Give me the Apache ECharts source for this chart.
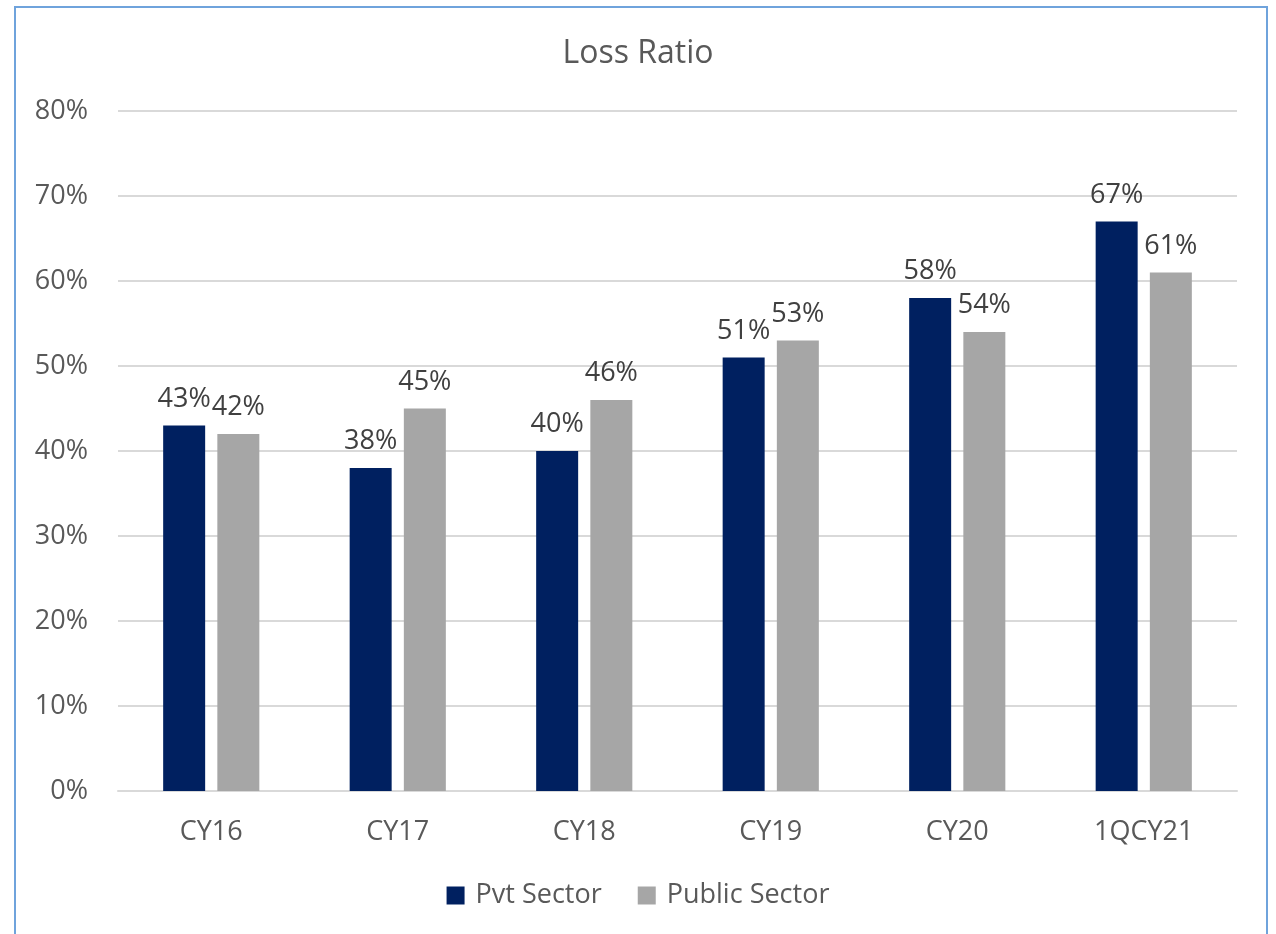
<!DOCTYPE html>
<html>
<head>
<meta charset="utf-8">
<script src="https://cdn.jsdelivr.net/npm/echarts@6/dist/echarts.min.js"></script>
<style>
  html, body { margin: 0; padding: 0; background: #fff; }
  #chart { position: absolute; left: 0; top: 0; width: 1276px; height: 934px; }
  #frame { position: absolute; left: 14px; top: 6px; width: 1250px; height: 940px;
           border: 2px solid #6fa3dc; pointer-events: none; }
</style>
</head>
<body>
<div id="chart"></div>
<div id="frame"></div>
<script>
const categories = ['CY16', 'CY17', 'CY18', 'CY19', 'CY20', '1QCY21'];
const pvtSector = [43, 38, 40, 51, 58, 67];
const publicSector = [42, 45, 46, 53, 54, 61];

const fontFamily = '"Open Sans", "Noto Sans", sans-serif';
const chart = echarts.init(document.getElementById('chart'));

const labelStyle = {
    show: true,
    position: 'top',
    distance: 13,
    color: '#404040',
    fontSize: 27,
    fontFamily: fontFamily,
    formatter: p => p.value + '%'
};

chart.setOption({
    animation: false,
    title: {
        text: 'Loss Ratio',
        left: 'center',
        top: 33,
        textStyle: { color: '#595959', fontSize: 32, fontWeight: 'normal', fontFamily: fontFamily }
    },
    legend: {
        data: ['Pvt Sector', 'Public Sector'],
        bottom: 20,
        left: 'center',
        icon: 'rect',
        itemWidth: 18,
        itemHeight: 18,
        itemGap: 36,
        textStyle: { color: '#595959', fontSize: 27, fontFamily: fontFamily, padding: [0, 0, 0, 6] }
    },
    grid: { left: 118, right: 39, top: 111, bottom: 143 },
    xAxis: {
        type: 'category',
        data: categories,
        axisLine: { lineStyle: { color: '#d9d9d9', width: 2 } },
        axisTick: { show: false },
        axisLabel: { color: '#595959', fontSize: 27, margin: 28, fontFamily: fontFamily }
    },
    yAxis: {
        type: 'value',
        min: 0,
        max: 80,
        interval: 10,
        axisLine: { show: false },
        axisTick: { show: false },
        axisLabel: { color: '#595959', fontSize: 27, margin: 30, fontFamily: fontFamily, formatter: '{value}%' },
        splitLine: { lineStyle: { color: '#d9d9d9', width: 2 } }
    },
    series: [
        {
            name: 'Pvt Sector',
            type: 'bar',
            data: pvtSector,
            barWidth: 42,
            barGap: '29%',
            itemStyle: { color: '#002060' },
            label: labelStyle
        },
        {
            name: 'Public Sector',
            type: 'bar',
            data: publicSector,
            barWidth: 42,
            itemStyle: { color: '#a6a6a6' },
            label: labelStyle
        }
    ]
});
</script>
</body>
</html>
